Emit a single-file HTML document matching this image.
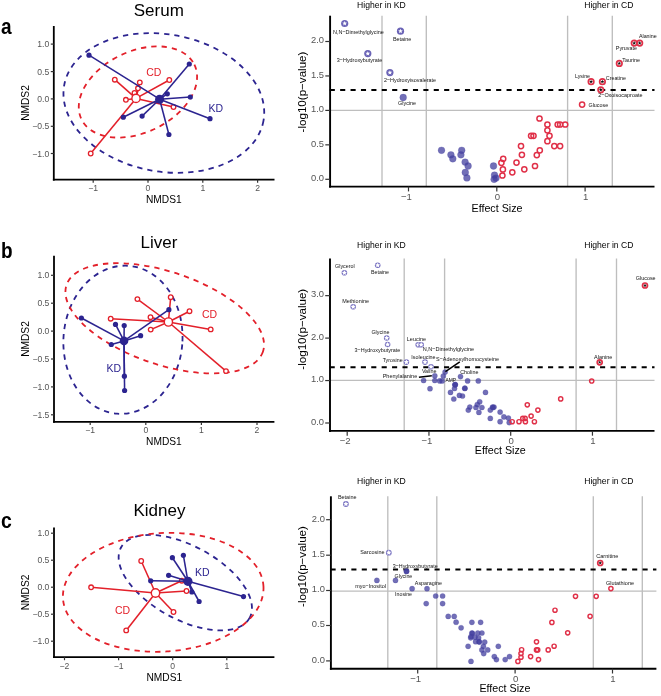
<!DOCTYPE html>
<html><head><meta charset="utf-8"><style>
html,body{margin:0;padding:0;background:#fff;width:661px;height:696px;overflow:hidden}
svg{display:block;font-family:"Liberation Sans", sans-serif;filter:blur(0.3px)}
</style></head><body>
<svg width="661" height="696" viewBox="0 0 661 696">
<rect width="661" height="696" fill="#fff"/>
<ellipse cx="163.84" cy="103" rx="101.21" ry="68.63" transform="rotate(10.02 163.84 103)" fill="none" stroke="#2C2490" stroke-width="1.8" stroke-dasharray="5.3 5.0"/>
<ellipse cx="137.93" cy="91.97" rx="62.72" ry="40.58" transform="rotate(-25.78 137.93 91.97)" fill="none" stroke="#E3202A" stroke-width="1.8" stroke-dasharray="5.3 5.0"/>
<line x1="136" y1="98.4" x2="114.8" y2="79.7" stroke="#E3202A" stroke-width="1.55" stroke-linecap="butt"/>
<line x1="136" y1="98.4" x2="139.8" y2="82.4" stroke="#E3202A" stroke-width="1.55" stroke-linecap="butt"/>
<line x1="136" y1="98.4" x2="138" y2="88.3" stroke="#E3202A" stroke-width="1.55" stroke-linecap="butt"/>
<line x1="136" y1="98.4" x2="134.5" y2="93" stroke="#E3202A" stroke-width="1.55" stroke-linecap="butt"/>
<line x1="136" y1="98.4" x2="125.9" y2="99.8" stroke="#E3202A" stroke-width="1.55" stroke-linecap="butt"/>
<line x1="136" y1="98.4" x2="169.3" y2="80" stroke="#E3202A" stroke-width="1.55" stroke-linecap="butt"/>
<line x1="136" y1="98.4" x2="173.5" y2="107" stroke="#E3202A" stroke-width="1.55" stroke-linecap="butt"/>
<line x1="136" y1="98.4" x2="90.7" y2="153.5" stroke="#E3202A" stroke-width="1.55" stroke-linecap="butt"/>
<circle cx="114.8" cy="79.7" r="2.3" fill="#fff" stroke="#E3202A" stroke-width="1.3"/>
<circle cx="139.8" cy="82.4" r="2.3" fill="#fff" stroke="#E3202A" stroke-width="1.3"/>
<circle cx="138" cy="88.3" r="2.3" fill="#fff" stroke="#E3202A" stroke-width="1.3"/>
<circle cx="134.5" cy="93" r="2.3" fill="#fff" stroke="#E3202A" stroke-width="1.3"/>
<circle cx="125.9" cy="99.8" r="2.3" fill="#fff" stroke="#E3202A" stroke-width="1.3"/>
<circle cx="169.3" cy="80" r="2.3" fill="#fff" stroke="#E3202A" stroke-width="1.3"/>
<circle cx="173.5" cy="107" r="2.3" fill="#fff" stroke="#E3202A" stroke-width="1.3"/>
<circle cx="90.7" cy="153.5" r="2.3" fill="#fff" stroke="#E3202A" stroke-width="1.3"/>
<circle cx="136" cy="98.4" r="4.1" fill="#fff" stroke="#E3202A" stroke-width="1.4"/>
<line x1="159.6" y1="99.2" x2="89" y2="55.2" stroke="#2C2490" stroke-width="1.55" stroke-linecap="butt"/>
<line x1="159.6" y1="99.2" x2="189.3" y2="64" stroke="#2C2490" stroke-width="1.55" stroke-linecap="butt"/>
<line x1="159.6" y1="99.2" x2="167.3" y2="93.8" stroke="#2C2490" stroke-width="1.55" stroke-linecap="butt"/>
<line x1="159.6" y1="99.2" x2="190.3" y2="97" stroke="#2C2490" stroke-width="1.55" stroke-linecap="butt"/>
<line x1="159.6" y1="99.2" x2="210" y2="118.7" stroke="#2C2490" stroke-width="1.55" stroke-linecap="butt"/>
<line x1="159.6" y1="99.2" x2="123.3" y2="117.2" stroke="#2C2490" stroke-width="1.55" stroke-linecap="butt"/>
<line x1="159.6" y1="99.2" x2="142.1" y2="116.1" stroke="#2C2490" stroke-width="1.55" stroke-linecap="butt"/>
<line x1="159.6" y1="99.2" x2="168.9" y2="134.5" stroke="#2C2490" stroke-width="1.55" stroke-linecap="butt"/>
<circle cx="89" cy="55.2" r="2.6" fill="#2C2490" stroke="none" stroke-width="0"/>
<circle cx="189.3" cy="64" r="2.6" fill="#2C2490" stroke="none" stroke-width="0"/>
<circle cx="167.3" cy="93.8" r="2.6" fill="#2C2490" stroke="none" stroke-width="0"/>
<circle cx="190.3" cy="97" r="2.6" fill="#2C2490" stroke="none" stroke-width="0"/>
<circle cx="210" cy="118.7" r="2.6" fill="#2C2490" stroke="none" stroke-width="0"/>
<circle cx="123.3" cy="117.2" r="2.6" fill="#2C2490" stroke="none" stroke-width="0"/>
<circle cx="142.1" cy="116.1" r="2.6" fill="#2C2490" stroke="none" stroke-width="0"/>
<circle cx="168.9" cy="134.5" r="2.6" fill="#2C2490" stroke="none" stroke-width="0"/>
<circle cx="159.6" cy="99.2" r="4.5" fill="#2C2490" stroke="none" stroke-width="0"/>
<line x1="53.8" y1="26" x2="53.8" y2="180.6" stroke="#000" stroke-width="1.8" stroke-linecap="butt"/>
<line x1="52.9" y1="179.7" x2="274.5" y2="179.7" stroke="#000" stroke-width="1.8" stroke-linecap="butt"/>
<line x1="50.8" y1="44.1" x2="53.8" y2="44.1" stroke="#333" stroke-width="1.2" stroke-linecap="butt"/>
<text x="49.2" y="47.2" font-size="8.6" text-anchor="end" fill="#555555" font-weight="normal">1.0</text>
<line x1="50.8" y1="71.6" x2="53.8" y2="71.6" stroke="#333" stroke-width="1.2" stroke-linecap="butt"/>
<text x="49.2" y="74.7" font-size="8.6" text-anchor="end" fill="#555555" font-weight="normal">0.5</text>
<line x1="50.8" y1="98.9" x2="53.8" y2="98.9" stroke="#333" stroke-width="1.2" stroke-linecap="butt"/>
<text x="49.2" y="102" font-size="8.6" text-anchor="end" fill="#555555" font-weight="normal">0.0</text>
<line x1="50.8" y1="126.3" x2="53.8" y2="126.3" stroke="#333" stroke-width="1.2" stroke-linecap="butt"/>
<text x="49.2" y="129.4" font-size="8.6" text-anchor="end" fill="#555555" font-weight="normal">−0.5</text>
<line x1="50.8" y1="153.5" x2="53.8" y2="153.5" stroke="#333" stroke-width="1.2" stroke-linecap="butt"/>
<text x="49.2" y="156.6" font-size="8.6" text-anchor="end" fill="#555555" font-weight="normal">−1.0</text>
<line x1="93.2" y1="179.7" x2="93.2" y2="182.7" stroke="#333" stroke-width="1.2" stroke-linecap="butt"/>
<text x="93.2" y="191" font-size="8.6" text-anchor="middle" fill="#555555" font-weight="normal">−1</text>
<line x1="148" y1="179.7" x2="148" y2="182.7" stroke="#333" stroke-width="1.2" stroke-linecap="butt"/>
<text x="148" y="191" font-size="8.6" text-anchor="middle" fill="#555555" font-weight="normal">0</text>
<line x1="202.8" y1="179.7" x2="202.8" y2="182.7" stroke="#333" stroke-width="1.2" stroke-linecap="butt"/>
<text x="202.8" y="191" font-size="8.6" text-anchor="middle" fill="#555555" font-weight="normal">1</text>
<line x1="257.6" y1="179.7" x2="257.6" y2="182.7" stroke="#333" stroke-width="1.2" stroke-linecap="butt"/>
<text x="257.6" y="191" font-size="8.6" text-anchor="middle" fill="#555555" font-weight="normal">2</text>
<text x="163.8" y="203" font-size="10.2" text-anchor="middle" fill="#000" font-weight="normal">NMDS1</text>
<text x="28.6" y="103" font-size="10.2" text-anchor="middle" fill="#000" font-weight="normal" transform="rotate(-90 28.6 103)">NMDS2</text>
<text x="158.8" y="16.3" font-size="17" text-anchor="middle" fill="#000" font-weight="normal">Serum</text>
<text x="1" y="33.9" font-size="22" text-anchor="start" fill="#000" font-weight="bold" textLength="10.6" lengthAdjust="spacingAndGlyphs">a</text>
<text x="146.2" y="75.8" font-size="10.5" text-anchor="start" fill="#E3202A" font-weight="normal">CD</text>
<text x="208.6" y="112.4" font-size="10.5" text-anchor="start" fill="#2C2490" font-weight="normal">KD</text>
<ellipse cx="122.95" cy="339.74" rx="59.49" ry="74.16" transform="rotate(4.53 122.95 339.74)" fill="none" stroke="#2C2490" stroke-width="1.8" stroke-dasharray="5.3 5.0"/>
<ellipse cx="164.72" cy="318.3" rx="103.71" ry="46.32" transform="rotate(18.77 164.72 318.3)" fill="none" stroke="#E3202A" stroke-width="1.8" stroke-dasharray="5.3 5.0"/>
<line x1="168.4" y1="322" x2="137.4" y2="299.1" stroke="#E3202A" stroke-width="1.55" stroke-linecap="butt"/>
<line x1="168.4" y1="322" x2="170.7" y2="297.2" stroke="#E3202A" stroke-width="1.55" stroke-linecap="butt"/>
<line x1="168.4" y1="322" x2="189.5" y2="311.2" stroke="#E3202A" stroke-width="1.55" stroke-linecap="butt"/>
<line x1="168.4" y1="322" x2="150.5" y2="317.2" stroke="#E3202A" stroke-width="1.55" stroke-linecap="butt"/>
<line x1="168.4" y1="322" x2="150.7" y2="329.6" stroke="#E3202A" stroke-width="1.55" stroke-linecap="butt"/>
<line x1="168.4" y1="322" x2="210.7" y2="329.4" stroke="#E3202A" stroke-width="1.55" stroke-linecap="butt"/>
<line x1="168.4" y1="322" x2="226" y2="371.1" stroke="#E3202A" stroke-width="1.55" stroke-linecap="butt"/>
<line x1="168.4" y1="322" x2="110.7" y2="318.7" stroke="#E3202A" stroke-width="1.55" stroke-linecap="butt"/>
<circle cx="137.4" cy="299.1" r="2.3" fill="#fff" stroke="#E3202A" stroke-width="1.3"/>
<circle cx="170.7" cy="297.2" r="2.3" fill="#fff" stroke="#E3202A" stroke-width="1.3"/>
<circle cx="189.5" cy="311.2" r="2.3" fill="#fff" stroke="#E3202A" stroke-width="1.3"/>
<circle cx="150.5" cy="317.2" r="2.3" fill="#fff" stroke="#E3202A" stroke-width="1.3"/>
<circle cx="150.7" cy="329.6" r="2.3" fill="#fff" stroke="#E3202A" stroke-width="1.3"/>
<circle cx="210.7" cy="329.4" r="2.3" fill="#fff" stroke="#E3202A" stroke-width="1.3"/>
<circle cx="226" cy="371.1" r="2.3" fill="#fff" stroke="#E3202A" stroke-width="1.3"/>
<circle cx="110.7" cy="318.7" r="2.3" fill="#fff" stroke="#E3202A" stroke-width="1.3"/>
<circle cx="168.4" cy="322" r="4.1" fill="#fff" stroke="#E3202A" stroke-width="1.4"/>
<line x1="124" y1="340.9" x2="81.4" y2="318" stroke="#2C2490" stroke-width="1.55" stroke-linecap="butt"/>
<line x1="124" y1="340.9" x2="115.5" y2="324.4" stroke="#2C2490" stroke-width="1.55" stroke-linecap="butt"/>
<line x1="124" y1="340.9" x2="124.2" y2="325.6" stroke="#2C2490" stroke-width="1.55" stroke-linecap="butt"/>
<line x1="124" y1="340.9" x2="140.6" y2="335.7" stroke="#2C2490" stroke-width="1.55" stroke-linecap="butt"/>
<line x1="124" y1="340.9" x2="111.3" y2="344.5" stroke="#2C2490" stroke-width="1.55" stroke-linecap="butt"/>
<line x1="124" y1="340.9" x2="124.4" y2="376.2" stroke="#2C2490" stroke-width="1.55" stroke-linecap="butt"/>
<line x1="124" y1="340.9" x2="124.6" y2="390.5" stroke="#2C2490" stroke-width="1.55" stroke-linecap="butt"/>
<line x1="124" y1="340.9" x2="168.9" y2="309.7" stroke="#2C2490" stroke-width="1.55" stroke-linecap="butt"/>
<circle cx="81.4" cy="318" r="2.6" fill="#2C2490" stroke="none" stroke-width="0"/>
<circle cx="115.5" cy="324.4" r="2.6" fill="#2C2490" stroke="none" stroke-width="0"/>
<circle cx="124.2" cy="325.6" r="2.6" fill="#2C2490" stroke="none" stroke-width="0"/>
<circle cx="140.6" cy="335.7" r="2.6" fill="#2C2490" stroke="none" stroke-width="0"/>
<circle cx="111.3" cy="344.5" r="2.6" fill="#2C2490" stroke="none" stroke-width="0"/>
<circle cx="124.4" cy="376.2" r="2.6" fill="#2C2490" stroke="none" stroke-width="0"/>
<circle cx="124.6" cy="390.5" r="2.6" fill="#2C2490" stroke="none" stroke-width="0"/>
<circle cx="168.9" cy="309.7" r="2.6" fill="#2C2490" stroke="none" stroke-width="0"/>
<circle cx="124" cy="340.9" r="4.3" fill="#2C2490" stroke="none" stroke-width="0"/>
<line x1="54" y1="255.7" x2="54" y2="422.8" stroke="#000" stroke-width="1.8" stroke-linecap="butt"/>
<line x1="53.1" y1="421.9" x2="274.4" y2="421.9" stroke="#000" stroke-width="1.8" stroke-linecap="butt"/>
<line x1="51" y1="275.3" x2="54" y2="275.3" stroke="#333" stroke-width="1.2" stroke-linecap="butt"/>
<text x="49.4" y="278.4" font-size="8.6" text-anchor="end" fill="#555555" font-weight="normal">1.0</text>
<line x1="51" y1="303.2" x2="54" y2="303.2" stroke="#333" stroke-width="1.2" stroke-linecap="butt"/>
<text x="49.4" y="306.3" font-size="8.6" text-anchor="end" fill="#555555" font-weight="normal">0.5</text>
<line x1="51" y1="331.1" x2="54" y2="331.1" stroke="#333" stroke-width="1.2" stroke-linecap="butt"/>
<text x="49.4" y="334.2" font-size="8.6" text-anchor="end" fill="#555555" font-weight="normal">0.0</text>
<line x1="51" y1="359" x2="54" y2="359" stroke="#333" stroke-width="1.2" stroke-linecap="butt"/>
<text x="49.4" y="362.1" font-size="8.6" text-anchor="end" fill="#555555" font-weight="normal">−0.5</text>
<line x1="51" y1="386.9" x2="54" y2="386.9" stroke="#333" stroke-width="1.2" stroke-linecap="butt"/>
<text x="49.4" y="390" font-size="8.6" text-anchor="end" fill="#555555" font-weight="normal">−1.0</text>
<line x1="51" y1="414.8" x2="54" y2="414.8" stroke="#333" stroke-width="1.2" stroke-linecap="butt"/>
<text x="49.4" y="417.9" font-size="8.6" text-anchor="end" fill="#555555" font-weight="normal">−1.5</text>
<line x1="90.2" y1="421.9" x2="90.2" y2="424.9" stroke="#333" stroke-width="1.2" stroke-linecap="butt"/>
<text x="90.2" y="433.2" font-size="8.6" text-anchor="middle" fill="#555555" font-weight="normal">−1</text>
<line x1="145.8" y1="421.9" x2="145.8" y2="424.9" stroke="#333" stroke-width="1.2" stroke-linecap="butt"/>
<text x="145.8" y="433.2" font-size="8.6" text-anchor="middle" fill="#555555" font-weight="normal">0</text>
<line x1="201.4" y1="421.9" x2="201.4" y2="424.9" stroke="#333" stroke-width="1.2" stroke-linecap="butt"/>
<text x="201.4" y="433.2" font-size="8.6" text-anchor="middle" fill="#555555" font-weight="normal">1</text>
<line x1="257" y1="421.9" x2="257" y2="424.9" stroke="#333" stroke-width="1.2" stroke-linecap="butt"/>
<text x="257" y="433.2" font-size="8.6" text-anchor="middle" fill="#555555" font-weight="normal">2</text>
<text x="163.9" y="444.5" font-size="10.2" text-anchor="middle" fill="#000" font-weight="normal">NMDS1</text>
<text x="28.6" y="339" font-size="10.2" text-anchor="middle" fill="#000" font-weight="normal" transform="rotate(-90 28.6 339)">NMDS2</text>
<text x="159" y="248" font-size="17" text-anchor="middle" fill="#000" font-weight="normal">Liver</text>
<text x="1" y="258" font-size="22" text-anchor="start" fill="#000" font-weight="bold" textLength="11.6" lengthAdjust="spacingAndGlyphs">b</text>
<text x="202" y="317.7" font-size="10.5" text-anchor="start" fill="#E3202A" font-weight="normal">CD</text>
<text x="106.6" y="371.5" font-size="10.5" text-anchor="start" fill="#2C2490" font-weight="normal">KD</text>
<ellipse cx="185.31" cy="582.67" rx="73.31" ry="36.74" transform="rotate(28.7 185.31 582.67)" fill="none" stroke="#2C2490" stroke-width="1.8" stroke-dasharray="5.3 5.0"/>
<ellipse cx="163.21" cy="592.33" rx="100.43" ry="59.26" transform="rotate(-3.58 163.21 592.33)" fill="none" stroke="#E3202A" stroke-width="1.8" stroke-dasharray="5.3 5.0"/>
<line x1="155.5" y1="593" x2="141.2" y2="561" stroke="#E3202A" stroke-width="1.55" stroke-linecap="butt"/>
<line x1="155.5" y1="593" x2="91.1" y2="587.3" stroke="#E3202A" stroke-width="1.55" stroke-linecap="butt"/>
<line x1="155.5" y1="593" x2="173.5" y2="612" stroke="#E3202A" stroke-width="1.55" stroke-linecap="butt"/>
<line x1="155.5" y1="593" x2="126.2" y2="630.4" stroke="#E3202A" stroke-width="1.55" stroke-linecap="butt"/>
<line x1="155.5" y1="593" x2="186.5" y2="591" stroke="#E3202A" stroke-width="1.55" stroke-linecap="butt"/>
<line x1="155.5" y1="593" x2="181.8" y2="580.7" stroke="#E3202A" stroke-width="1.55" stroke-linecap="butt"/>
<circle cx="141.2" cy="561" r="2.3" fill="#fff" stroke="#E3202A" stroke-width="1.3"/>
<circle cx="91.1" cy="587.3" r="2.3" fill="#fff" stroke="#E3202A" stroke-width="1.3"/>
<circle cx="173.5" cy="612" r="2.3" fill="#fff" stroke="#E3202A" stroke-width="1.3"/>
<circle cx="126.2" cy="630.4" r="2.3" fill="#fff" stroke="#E3202A" stroke-width="1.3"/>
<circle cx="186.5" cy="591" r="2.3" fill="#fff" stroke="#E3202A" stroke-width="1.3"/>
<circle cx="181.8" cy="580.7" r="2.3" fill="#fff" stroke="#E3202A" stroke-width="1.3"/>
<circle cx="155.5" cy="593" r="4.2" fill="#fff" stroke="#E3202A" stroke-width="1.4"/>
<line x1="187.9" y1="581.3" x2="172.4" y2="557.7" stroke="#2C2490" stroke-width="1.55" stroke-linecap="butt"/>
<line x1="187.9" y1="581.3" x2="183.4" y2="555.3" stroke="#2C2490" stroke-width="1.55" stroke-linecap="butt"/>
<line x1="187.9" y1="581.3" x2="168.6" y2="575.3" stroke="#2C2490" stroke-width="1.55" stroke-linecap="butt"/>
<line x1="187.9" y1="581.3" x2="150.7" y2="580.8" stroke="#2C2490" stroke-width="1.55" stroke-linecap="butt"/>
<line x1="187.9" y1="581.3" x2="191.9" y2="592" stroke="#2C2490" stroke-width="1.55" stroke-linecap="butt"/>
<line x1="187.9" y1="581.3" x2="199.1" y2="601.5" stroke="#2C2490" stroke-width="1.55" stroke-linecap="butt"/>
<line x1="187.9" y1="581.3" x2="243.5" y2="596.6" stroke="#2C2490" stroke-width="1.55" stroke-linecap="butt"/>
<circle cx="172.4" cy="557.7" r="2.6" fill="#2C2490" stroke="none" stroke-width="0"/>
<circle cx="183.4" cy="555.3" r="2.6" fill="#2C2490" stroke="none" stroke-width="0"/>
<circle cx="168.6" cy="575.3" r="2.6" fill="#2C2490" stroke="none" stroke-width="0"/>
<circle cx="150.7" cy="580.8" r="2.6" fill="#2C2490" stroke="none" stroke-width="0"/>
<circle cx="191.9" cy="592" r="2.6" fill="#2C2490" stroke="none" stroke-width="0"/>
<circle cx="199.1" cy="601.5" r="2.6" fill="#2C2490" stroke="none" stroke-width="0"/>
<circle cx="243.5" cy="596.6" r="2.6" fill="#2C2490" stroke="none" stroke-width="0"/>
<circle cx="187.9" cy="581.3" r="4.6" fill="#2C2490" stroke="none" stroke-width="0"/>
<line x1="54" y1="527.6" x2="54" y2="658.1" stroke="#000" stroke-width="1.8" stroke-linecap="butt"/>
<line x1="53.1" y1="657.2" x2="274.4" y2="657.2" stroke="#000" stroke-width="1.8" stroke-linecap="butt"/>
<line x1="51" y1="533.2" x2="54" y2="533.2" stroke="#333" stroke-width="1.2" stroke-linecap="butt"/>
<text x="49.4" y="536.3" font-size="8.6" text-anchor="end" fill="#555555" font-weight="normal">1.0</text>
<line x1="51" y1="560.2" x2="54" y2="560.2" stroke="#333" stroke-width="1.2" stroke-linecap="butt"/>
<text x="49.4" y="563.3" font-size="8.6" text-anchor="end" fill="#555555" font-weight="normal">0.5</text>
<line x1="51" y1="587.2" x2="54" y2="587.2" stroke="#333" stroke-width="1.2" stroke-linecap="butt"/>
<text x="49.4" y="590.3" font-size="8.6" text-anchor="end" fill="#555555" font-weight="normal">0.0</text>
<line x1="51" y1="614.2" x2="54" y2="614.2" stroke="#333" stroke-width="1.2" stroke-linecap="butt"/>
<text x="49.4" y="617.3" font-size="8.6" text-anchor="end" fill="#555555" font-weight="normal">−0.5</text>
<line x1="51" y1="641.2" x2="54" y2="641.2" stroke="#333" stroke-width="1.2" stroke-linecap="butt"/>
<text x="49.4" y="644.3" font-size="8.6" text-anchor="end" fill="#555555" font-weight="normal">−1.0</text>
<line x1="64.5" y1="657.2" x2="64.5" y2="660.2" stroke="#333" stroke-width="1.2" stroke-linecap="butt"/>
<text x="64.5" y="668.5" font-size="8.6" text-anchor="middle" fill="#555555" font-weight="normal">−2</text>
<line x1="118.6" y1="657.2" x2="118.6" y2="660.2" stroke="#333" stroke-width="1.2" stroke-linecap="butt"/>
<text x="118.6" y="668.5" font-size="8.6" text-anchor="middle" fill="#555555" font-weight="normal">−1</text>
<line x1="172.7" y1="657.2" x2="172.7" y2="660.2" stroke="#333" stroke-width="1.2" stroke-linecap="butt"/>
<text x="172.7" y="668.5" font-size="8.6" text-anchor="middle" fill="#555555" font-weight="normal">0</text>
<line x1="226.8" y1="657.2" x2="226.8" y2="660.2" stroke="#333" stroke-width="1.2" stroke-linecap="butt"/>
<text x="226.8" y="668.5" font-size="8.6" text-anchor="middle" fill="#555555" font-weight="normal">1</text>
<text x="164.3" y="680.9" font-size="10.2" text-anchor="middle" fill="#000" font-weight="normal">NMDS1</text>
<text x="28.6" y="592.4" font-size="10.2" text-anchor="middle" fill="#000" font-weight="normal" transform="rotate(-90 28.6 592.4)">NMDS2</text>
<text x="159.4" y="515.5" font-size="17" text-anchor="middle" fill="#000" font-weight="normal">Kidney</text>
<text x="1" y="527.6" font-size="22" text-anchor="start" fill="#000" font-weight="bold" textLength="10.8" lengthAdjust="spacingAndGlyphs">c</text>
<text x="114.9" y="614.4" font-size="10.5" text-anchor="start" fill="#E3202A" font-weight="normal">CD</text>
<text x="195.1" y="575.5" font-size="10.5" text-anchor="start" fill="#2C2490" font-weight="normal">KD</text>
<line x1="382" y1="15.7" x2="382" y2="186.6" stroke="#BEBEBE" stroke-width="1.35" stroke-linecap="butt"/>
<line x1="426.3" y1="15.7" x2="426.3" y2="186.6" stroke="#BEBEBE" stroke-width="1.35" stroke-linecap="butt"/>
<line x1="567.6" y1="15.7" x2="567.6" y2="186.6" stroke="#BEBEBE" stroke-width="1.35" stroke-linecap="butt"/>
<line x1="612.3" y1="15.7" x2="612.3" y2="186.6" stroke="#BEBEBE" stroke-width="1.35" stroke-linecap="butt"/>
<line x1="330.1" y1="110.4" x2="654.5" y2="110.4" stroke="#BEBEBE" stroke-width="1.35" stroke-linecap="butt"/>
<line x1="329.75" y1="90" x2="654.5" y2="90" stroke="#000" stroke-width="2" stroke-linecap="butt" stroke-dasharray="5.1 5.3"/>
<circle cx="441.5" cy="150.3" r="3.4" fill="#433F9F" fill-opacity="0.75" stroke="#433F9F" stroke-opacity="0.4" stroke-width="0.6"/>
<circle cx="450.9" cy="154.8" r="3.4" fill="#433F9F" fill-opacity="0.75" stroke="#433F9F" stroke-opacity="0.4" stroke-width="0.6"/>
<circle cx="452.8" cy="158.8" r="3.4" fill="#433F9F" fill-opacity="0.75" stroke="#433F9F" stroke-opacity="0.4" stroke-width="0.6"/>
<circle cx="461.7" cy="150.3" r="3.4" fill="#433F9F" fill-opacity="0.75" stroke="#433F9F" stroke-opacity="0.4" stroke-width="0.6"/>
<circle cx="460.9" cy="154.8" r="3.4" fill="#433F9F" fill-opacity="0.75" stroke="#433F9F" stroke-opacity="0.4" stroke-width="0.6"/>
<circle cx="465.1" cy="162.1" r="3.4" fill="#433F9F" fill-opacity="0.75" stroke="#433F9F" stroke-opacity="0.4" stroke-width="0.6"/>
<circle cx="468.1" cy="166" r="3.4" fill="#433F9F" fill-opacity="0.75" stroke="#433F9F" stroke-opacity="0.4" stroke-width="0.6"/>
<circle cx="465.3" cy="172.4" r="3.4" fill="#433F9F" fill-opacity="0.75" stroke="#433F9F" stroke-opacity="0.4" stroke-width="0.6"/>
<circle cx="466.9" cy="177.9" r="3.4" fill="#433F9F" fill-opacity="0.75" stroke="#433F9F" stroke-opacity="0.4" stroke-width="0.6"/>
<circle cx="493.5" cy="166" r="3.4" fill="#433F9F" fill-opacity="0.75" stroke="#433F9F" stroke-opacity="0.4" stroke-width="0.6"/>
<circle cx="494.5" cy="175.1" r="3.4" fill="#433F9F" fill-opacity="0.75" stroke="#433F9F" stroke-opacity="0.4" stroke-width="0.6"/>
<circle cx="496" cy="178.1" r="3.4" fill="#433F9F" fill-opacity="0.75" stroke="#433F9F" stroke-opacity="0.4" stroke-width="0.6"/>
<circle cx="494.1" cy="179.3" r="3.4" fill="#433F9F" fill-opacity="0.75" stroke="#433F9F" stroke-opacity="0.4" stroke-width="0.6"/>
<circle cx="403.2" cy="97.5" r="3.4" fill="#433F9F" fill-opacity="0.75" stroke="#433F9F" stroke-opacity="0.4" stroke-width="0.6"/>
<circle cx="503.2" cy="158.8" r="2.6" fill="none" stroke="#E03048" stroke-width="1.5"/>
<circle cx="501.4" cy="162.8" r="2.6" fill="none" stroke="#E03048" stroke-width="1.5"/>
<circle cx="502.9" cy="169.4" r="2.6" fill="none" stroke="#E03048" stroke-width="1.5"/>
<circle cx="502.4" cy="175.5" r="2.6" fill="none" stroke="#E03048" stroke-width="1.5"/>
<circle cx="512.3" cy="172.3" r="2.6" fill="none" stroke="#E03048" stroke-width="1.5"/>
<circle cx="516.5" cy="162.6" r="2.6" fill="none" stroke="#E03048" stroke-width="1.5"/>
<circle cx="521.9" cy="154.8" r="2.6" fill="none" stroke="#E03048" stroke-width="1.5"/>
<circle cx="521" cy="146.1" r="2.6" fill="none" stroke="#E03048" stroke-width="1.5"/>
<circle cx="524.3" cy="169.3" r="2.6" fill="none" stroke="#E03048" stroke-width="1.5"/>
<circle cx="535" cy="166" r="2.6" fill="none" stroke="#E03048" stroke-width="1.5"/>
<circle cx="536.8" cy="155.1" r="2.6" fill="none" stroke="#E03048" stroke-width="1.5"/>
<circle cx="539.8" cy="150.3" r="2.6" fill="none" stroke="#E03048" stroke-width="1.5"/>
<circle cx="531.1" cy="135.8" r="2.6" fill="none" stroke="#E03048" stroke-width="1.5"/>
<circle cx="533.5" cy="135.8" r="2.6" fill="none" stroke="#E03048" stroke-width="1.5"/>
<circle cx="539.5" cy="118.5" r="2.6" fill="none" stroke="#E03048" stroke-width="1.5"/>
<circle cx="547.4" cy="124.5" r="2.6" fill="none" stroke="#E03048" stroke-width="1.5"/>
<circle cx="547.4" cy="130.3" r="2.6" fill="none" stroke="#E03048" stroke-width="1.5"/>
<circle cx="549.5" cy="135.8" r="2.6" fill="none" stroke="#E03048" stroke-width="1.5"/>
<circle cx="547.4" cy="141.2" r="2.6" fill="none" stroke="#E03048" stroke-width="1.5"/>
<circle cx="554.3" cy="146.1" r="2.6" fill="none" stroke="#E03048" stroke-width="1.5"/>
<circle cx="560.1" cy="146.1" r="2.6" fill="none" stroke="#E03048" stroke-width="1.5"/>
<circle cx="557.7" cy="124.5" r="2.6" fill="none" stroke="#E03048" stroke-width="1.5"/>
<circle cx="560.1" cy="124.5" r="2.6" fill="none" stroke="#E03048" stroke-width="1.5"/>
<circle cx="565.2" cy="124.5" r="2.6" fill="none" stroke="#E03048" stroke-width="1.5"/>
<circle cx="582.1" cy="104.6" r="2.6" fill="none" stroke="#E03048" stroke-width="1.5"/>
<circle cx="634.2" cy="43.1" r="2.75" fill="#fff" stroke="#E03048" stroke-width="1.7"/>
<polygon points="634.2,41.12 634.72,42.38 636.08,42.49 635.05,43.38 635.36,44.7 634.2,43.99 633.04,44.7 633.35,43.38 632.32,42.49 633.68,42.38" fill="#111"/>
<circle cx="639.7" cy="43.1" r="2.75" fill="#fff" stroke="#E03048" stroke-width="1.7"/>
<polygon points="639.7,41.12 640.22,42.38 641.58,42.49 640.55,43.38 640.86,44.7 639.7,43.99 638.54,44.7 638.85,43.38 637.82,42.49 639.18,42.38" fill="#111"/>
<circle cx="619.3" cy="63.4" r="2.75" fill="#fff" stroke="#E03048" stroke-width="1.7"/>
<polygon points="619.3,61.42 619.82,62.68 621.18,62.79 620.15,63.68 620.46,65 619.3,64.29 618.14,65 618.45,63.68 617.42,62.79 618.78,62.68" fill="#111"/>
<circle cx="591.1" cy="81.7" r="2.75" fill="#fff" stroke="#E03048" stroke-width="1.7"/>
<polygon points="591.1,79.72 591.62,80.98 592.98,81.09 591.95,81.98 592.26,83.3 591.1,82.59 589.94,83.3 590.25,81.98 589.22,81.09 590.58,80.98" fill="#111"/>
<circle cx="602.4" cy="81.7" r="2.75" fill="#fff" stroke="#E03048" stroke-width="1.7"/>
<polygon points="602.4,79.72 602.92,80.98 604.28,81.09 603.25,81.98 603.56,83.3 602.4,82.59 601.24,83.3 601.55,81.98 600.52,81.09 601.88,80.98" fill="#111"/>
<circle cx="600.8" cy="89.8" r="2.75" fill="#fff" stroke="#E03048" stroke-width="1.7"/>
<polygon points="600.8,87.82 601.32,89.08 602.68,89.19 601.65,90.08 601.96,91.4 600.8,90.69 599.64,91.4 599.95,90.08 598.92,89.19 600.28,89.08" fill="#111"/>
<circle cx="344.7" cy="23.5" r="3.6" fill="#6A63B6" stroke="none" stroke-width="0"/>
<polygon points="344.7,21.05 345.35,22.61 347.03,22.74 345.75,23.84 346.14,25.48 344.7,24.6 343.26,25.48 343.65,23.84 342.37,22.74 344.05,22.61" fill="#fff"/>
<circle cx="400.5" cy="31.2" r="3.6" fill="#6A63B6" stroke="none" stroke-width="0"/>
<polygon points="400.5,28.75 401.15,30.31 402.83,30.44 401.55,31.54 401.94,33.18 400.5,32.3 399.06,33.18 399.45,31.54 398.17,30.44 399.85,30.31" fill="#fff"/>
<circle cx="367.8" cy="53.6" r="3.6" fill="#6A63B6" stroke="none" stroke-width="0"/>
<polygon points="367.8,51.15 368.45,52.71 370.13,52.84 368.85,53.94 369.24,55.58 367.8,54.7 366.36,55.58 366.75,53.94 365.47,52.84 367.15,52.71" fill="#fff"/>
<circle cx="389.9" cy="72.6" r="3.6" fill="#6A63B6" stroke="none" stroke-width="0"/>
<polygon points="389.9,70.15 390.55,71.71 392.23,71.84 390.95,72.94 391.34,74.58 389.9,73.7 388.46,74.58 388.85,72.94 387.57,71.84 389.25,71.71" fill="#fff"/>
<text x="333" y="33.8" font-size="6.1" text-anchor="start" fill="#111111" font-weight="normal" textLength="50.8" lengthAdjust="spacingAndGlyphs">N,N−Dimethylglycine</text>
<text x="392.9" y="40.6" font-size="6.1" text-anchor="start" fill="#111111" font-weight="normal" textLength="18.5" lengthAdjust="spacingAndGlyphs">Betaine</text>
<text x="336.8" y="62.4" font-size="6.1" text-anchor="start" fill="#111111" font-weight="normal" textLength="45.6" lengthAdjust="spacingAndGlyphs">3−Hydroxybutyrate</text>
<text x="383.9" y="82" font-size="6.1" text-anchor="start" fill="#111111" font-weight="normal" textLength="52.2" lengthAdjust="spacingAndGlyphs">2−Hydroxyisovalerate</text>
<text x="398" y="104.8" font-size="6.1" text-anchor="start" fill="#111111" font-weight="normal" textLength="18.1" lengthAdjust="spacingAndGlyphs">Glycine</text>
<text x="638.9" y="38.3" font-size="6.1" text-anchor="start" fill="#111111" font-weight="normal" textLength="17.8" lengthAdjust="spacingAndGlyphs">Alanine</text>
<text x="615.8" y="50" font-size="6.1" text-anchor="start" fill="#111111" font-weight="normal" textLength="21.2" lengthAdjust="spacingAndGlyphs">Pyruvate</text>
<text x="622.3" y="62.2" font-size="6.1" text-anchor="start" fill="#111111" font-weight="normal" textLength="17.7" lengthAdjust="spacingAndGlyphs">Taurine</text>
<text x="575" y="77.6" font-size="6.1" text-anchor="start" fill="#111111" font-weight="normal" textLength="15" lengthAdjust="spacingAndGlyphs">Lysine</text>
<text x="605.8" y="80.4" font-size="6.1" text-anchor="start" fill="#111111" font-weight="normal" textLength="20.2" lengthAdjust="spacingAndGlyphs">Creatine</text>
<text x="598.2" y="97.1" font-size="6.1" text-anchor="start" fill="#111111" font-weight="normal" textLength="44.3" lengthAdjust="spacingAndGlyphs">2−Oxoisocaproate</text>
<text x="588.5" y="106.6" font-size="6.1" text-anchor="start" fill="#111111" font-weight="normal" textLength="19.7" lengthAdjust="spacingAndGlyphs">Glucose</text>
<line x1="330.1" y1="15.7" x2="330.1" y2="187.6" stroke="#000" stroke-width="1.9" stroke-linecap="butt"/>
<line x1="329.1" y1="186.6" x2="654.5" y2="186.6" stroke="#000" stroke-width="1.9" stroke-linecap="butt"/>
<line x1="325.3" y1="179.3" x2="330.1" y2="179.3" stroke="#333" stroke-width="1.2" stroke-linecap="butt"/>
<text x="324.1" y="181.1" font-size="9.4" text-anchor="end" fill="#555555" font-weight="normal">0.0</text>
<line x1="325.3" y1="144.85" x2="330.1" y2="144.85" stroke="#333" stroke-width="1.2" stroke-linecap="butt"/>
<text x="324.1" y="146.65" font-size="9.4" text-anchor="end" fill="#555555" font-weight="normal">0.5</text>
<line x1="325.3" y1="110.4" x2="330.1" y2="110.4" stroke="#333" stroke-width="1.2" stroke-linecap="butt"/>
<text x="324.1" y="112.2" font-size="9.4" text-anchor="end" fill="#555555" font-weight="normal">1.0</text>
<line x1="325.3" y1="75.95" x2="330.1" y2="75.95" stroke="#333" stroke-width="1.2" stroke-linecap="butt"/>
<text x="324.1" y="77.75" font-size="9.4" text-anchor="end" fill="#555555" font-weight="normal">1.5</text>
<line x1="325.3" y1="41.5" x2="330.1" y2="41.5" stroke="#333" stroke-width="1.2" stroke-linecap="butt"/>
<text x="324.1" y="43.3" font-size="9.4" text-anchor="end" fill="#555555" font-weight="normal">2.0</text>
<line x1="408.5" y1="186.6" x2="408.5" y2="191.4" stroke="#333" stroke-width="1.2" stroke-linecap="butt"/>
<text x="406.5" y="199.9" font-size="9.6" text-anchor="middle" fill="#555555" font-weight="normal">−1</text>
<line x1="496.8" y1="186.6" x2="496.8" y2="191.4" stroke="#333" stroke-width="1.2" stroke-linecap="butt"/>
<text x="497.3" y="199.9" font-size="9.6" text-anchor="middle" fill="#555555" font-weight="normal">0</text>
<line x1="585.1" y1="186.6" x2="585.1" y2="191.4" stroke="#333" stroke-width="1.2" stroke-linecap="butt"/>
<text x="585.6" y="199.9" font-size="9.6" text-anchor="middle" fill="#555555" font-weight="normal">1</text>
<text x="497" y="212" font-size="10.7" text-anchor="middle" fill="#000" font-weight="normal">Effect Size</text>
<text x="306.3" y="92" font-size="11.6" text-anchor="middle" fill="#000" font-weight="normal" transform="rotate(-90 306.3 92)">-log10(p−value)</text>
<text x="381.4" y="8.3" font-size="8.6" text-anchor="middle" fill="#000" font-weight="normal">Higher in KD</text>
<text x="608.8" y="8.3" font-size="8.6" text-anchor="middle" fill="#000" font-weight="normal">Higher in CD</text>
<line x1="404.2" y1="258.5" x2="404.2" y2="430.9" stroke="#BEBEBE" stroke-width="1.35" stroke-linecap="butt"/>
<line x1="444.6" y1="258.5" x2="444.6" y2="430.9" stroke="#BEBEBE" stroke-width="1.35" stroke-linecap="butt"/>
<line x1="576.1" y1="258.5" x2="576.1" y2="430.9" stroke="#BEBEBE" stroke-width="1.35" stroke-linecap="butt"/>
<line x1="616.5" y1="258.5" x2="616.5" y2="430.9" stroke="#BEBEBE" stroke-width="1.35" stroke-linecap="butt"/>
<line x1="330" y1="380.4" x2="654.5" y2="380.4" stroke="#BEBEBE" stroke-width="1.35" stroke-linecap="butt"/>
<line x1="329.65" y1="367.2" x2="654.5" y2="367.2" stroke="#000" stroke-width="2" stroke-linecap="butt" stroke-dasharray="5.1 5.3"/>
<circle cx="423.6" cy="380.5" r="2.6" fill="#433F9F" fill-opacity="0.75" stroke="#433F9F" stroke-opacity="0.4" stroke-width="0.6"/>
<circle cx="434.8" cy="375.8" r="2.6" fill="#433F9F" fill-opacity="0.75" stroke="#433F9F" stroke-opacity="0.4" stroke-width="0.6"/>
<circle cx="434.8" cy="380.5" r="2.6" fill="#433F9F" fill-opacity="0.75" stroke="#433F9F" stroke-opacity="0.4" stroke-width="0.6"/>
<circle cx="439.7" cy="380.9" r="2.6" fill="#433F9F" fill-opacity="0.75" stroke="#433F9F" stroke-opacity="0.4" stroke-width="0.6"/>
<circle cx="442.1" cy="380.9" r="2.6" fill="#433F9F" fill-opacity="0.75" stroke="#433F9F" stroke-opacity="0.4" stroke-width="0.6"/>
<circle cx="443.3" cy="376" r="2.6" fill="#433F9F" fill-opacity="0.75" stroke="#433F9F" stroke-opacity="0.4" stroke-width="0.6"/>
<circle cx="445.1" cy="372.1" r="2.6" fill="#433F9F" fill-opacity="0.75" stroke="#433F9F" stroke-opacity="0.4" stroke-width="0.6"/>
<circle cx="430" cy="388.7" r="2.6" fill="#433F9F" fill-opacity="0.75" stroke="#433F9F" stroke-opacity="0.4" stroke-width="0.6"/>
<circle cx="460.5" cy="376.6" r="2.6" fill="#433F9F" fill-opacity="0.75" stroke="#433F9F" stroke-opacity="0.4" stroke-width="0.6"/>
<circle cx="467.6" cy="380.9" r="2.6" fill="#433F9F" fill-opacity="0.75" stroke="#433F9F" stroke-opacity="0.4" stroke-width="0.6"/>
<circle cx="478.3" cy="380.9" r="2.6" fill="#433F9F" fill-opacity="0.75" stroke="#433F9F" stroke-opacity="0.4" stroke-width="0.6"/>
<circle cx="455" cy="384.5" r="2.6" fill="#433F9F" fill-opacity="0.75" stroke="#433F9F" stroke-opacity="0.4" stroke-width="0.6"/>
<circle cx="454.5" cy="388.5" r="2.6" fill="#433F9F" fill-opacity="0.75" stroke="#433F9F" stroke-opacity="0.4" stroke-width="0.6"/>
<circle cx="450.5" cy="392.4" r="2.6" fill="#433F9F" fill-opacity="0.75" stroke="#433F9F" stroke-opacity="0.4" stroke-width="0.6"/>
<circle cx="464.8" cy="388.5" r="2.6" fill="#433F9F" fill-opacity="0.75" stroke="#433F9F" stroke-opacity="0.4" stroke-width="0.6"/>
<circle cx="453.8" cy="399" r="2.6" fill="#433F9F" fill-opacity="0.75" stroke="#433F9F" stroke-opacity="0.4" stroke-width="0.6"/>
<circle cx="459.4" cy="395.4" r="2.6" fill="#433F9F" fill-opacity="0.75" stroke="#433F9F" stroke-opacity="0.4" stroke-width="0.6"/>
<circle cx="462.5" cy="396" r="2.6" fill="#433F9F" fill-opacity="0.75" stroke="#433F9F" stroke-opacity="0.4" stroke-width="0.6"/>
<circle cx="485.5" cy="392.4" r="2.6" fill="#433F9F" fill-opacity="0.75" stroke="#433F9F" stroke-opacity="0.4" stroke-width="0.6"/>
<circle cx="479.7" cy="401.8" r="2.6" fill="#433F9F" fill-opacity="0.75" stroke="#433F9F" stroke-opacity="0.4" stroke-width="0.6"/>
<circle cx="477.3" cy="404.5" r="2.6" fill="#433F9F" fill-opacity="0.75" stroke="#433F9F" stroke-opacity="0.4" stroke-width="0.6"/>
<circle cx="469.8" cy="407.1" r="2.6" fill="#433F9F" fill-opacity="0.75" stroke="#433F9F" stroke-opacity="0.4" stroke-width="0.6"/>
<circle cx="468.3" cy="410.1" r="2.6" fill="#433F9F" fill-opacity="0.75" stroke="#433F9F" stroke-opacity="0.4" stroke-width="0.6"/>
<circle cx="475.9" cy="407.5" r="2.6" fill="#433F9F" fill-opacity="0.75" stroke="#433F9F" stroke-opacity="0.4" stroke-width="0.6"/>
<circle cx="481.9" cy="407.5" r="2.6" fill="#433F9F" fill-opacity="0.75" stroke="#433F9F" stroke-opacity="0.4" stroke-width="0.6"/>
<circle cx="478.9" cy="412.4" r="2.6" fill="#433F9F" fill-opacity="0.75" stroke="#433F9F" stroke-opacity="0.4" stroke-width="0.6"/>
<circle cx="492.5" cy="407.1" r="2.6" fill="#433F9F" fill-opacity="0.75" stroke="#433F9F" stroke-opacity="0.4" stroke-width="0.6"/>
<circle cx="490.3" cy="410.1" r="2.6" fill="#433F9F" fill-opacity="0.75" stroke="#433F9F" stroke-opacity="0.4" stroke-width="0.6"/>
<circle cx="494" cy="407.1" r="2.6" fill="#433F9F" fill-opacity="0.75" stroke="#433F9F" stroke-opacity="0.4" stroke-width="0.6"/>
<circle cx="490.3" cy="418.4" r="2.6" fill="#433F9F" fill-opacity="0.75" stroke="#433F9F" stroke-opacity="0.4" stroke-width="0.6"/>
<circle cx="500.1" cy="412.1" r="2.6" fill="#433F9F" fill-opacity="0.75" stroke="#433F9F" stroke-opacity="0.4" stroke-width="0.6"/>
<circle cx="503.9" cy="416.9" r="2.6" fill="#433F9F" fill-opacity="0.75" stroke="#433F9F" stroke-opacity="0.4" stroke-width="0.6"/>
<circle cx="508.4" cy="418.1" r="2.6" fill="#433F9F" fill-opacity="0.75" stroke="#433F9F" stroke-opacity="0.4" stroke-width="0.6"/>
<circle cx="500.1" cy="421.7" r="2.6" fill="#433F9F" fill-opacity="0.75" stroke="#433F9F" stroke-opacity="0.4" stroke-width="0.6"/>
<circle cx="509.2" cy="422.6" r="2.6" fill="#433F9F" fill-opacity="0.75" stroke="#433F9F" stroke-opacity="0.4" stroke-width="0.6"/>
<circle cx="455.1" cy="385" r="2.6" fill="#433F9F" fill-opacity="0.75" stroke="#433F9F" stroke-opacity="0.4" stroke-width="0.6"/>
<circle cx="455.3" cy="384.6" r="2.6" fill="#433F9F" fill-opacity="0.75" stroke="#433F9F" stroke-opacity="0.4" stroke-width="0.6"/>
<circle cx="464.9" cy="388.2" r="2.6" fill="#433F9F" fill-opacity="0.75" stroke="#433F9F" stroke-opacity="0.4" stroke-width="0.6"/>
<circle cx="493" cy="407.6" r="2.6" fill="#433F9F" fill-opacity="0.75" stroke="#433F9F" stroke-opacity="0.4" stroke-width="0.6"/>
<circle cx="591.7" cy="381" r="2.1" fill="none" stroke="#E03048" stroke-width="1.45"/>
<circle cx="560.7" cy="398.9" r="2.1" fill="none" stroke="#E03048" stroke-width="1.45"/>
<circle cx="537.9" cy="410.1" r="2.1" fill="none" stroke="#E03048" stroke-width="1.45"/>
<circle cx="527.3" cy="404.8" r="2.1" fill="none" stroke="#E03048" stroke-width="1.45"/>
<circle cx="531.1" cy="416.1" r="2.1" fill="none" stroke="#E03048" stroke-width="1.45"/>
<circle cx="522.8" cy="418.4" r="2.1" fill="none" stroke="#E03048" stroke-width="1.45"/>
<circle cx="525.1" cy="418.4" r="2.1" fill="none" stroke="#E03048" stroke-width="1.45"/>
<circle cx="512.2" cy="421.7" r="2.1" fill="none" stroke="#E03048" stroke-width="1.45"/>
<circle cx="519" cy="421.7" r="2.1" fill="none" stroke="#E03048" stroke-width="1.45"/>
<circle cx="525.4" cy="421.7" r="2.1" fill="none" stroke="#E03048" stroke-width="1.45"/>
<circle cx="534.4" cy="421.7" r="2.1" fill="none" stroke="#E03048" stroke-width="1.45"/>
<circle cx="645" cy="285.5" r="2.5" fill="#fff" stroke="#E03048" stroke-width="1.7"/>
<polygon points="645,283.7 645.48,284.84 646.71,284.94 645.77,285.75 646.06,286.96 645,286.31 643.94,286.96 644.23,285.75 643.29,284.94 644.52,284.84" fill="#111"/>
<circle cx="599.7" cy="362.3" r="2.5" fill="#fff" stroke="#E03048" stroke-width="1.7"/>
<polygon points="599.7,360.5 600.18,361.64 601.41,361.74 600.47,362.55 600.76,363.76 599.7,363.11 598.64,363.76 598.93,362.55 597.99,361.74 599.22,361.64" fill="#111"/>
<circle cx="344.4" cy="272.8" r="2.8" fill="#7A74C2" stroke="none" stroke-width="0"/>
<polygon points="344.4,270.22 345.16,271.76 346.85,272 345.62,273.2 345.91,274.88 344.4,274.09 342.89,274.88 343.18,273.2 341.95,272 343.64,271.76" fill="#fff"/>
<circle cx="377.7" cy="265.3" r="2.8" fill="#7A74C2" stroke="none" stroke-width="0"/>
<polygon points="377.7,262.72 378.46,264.26 380.15,264.5 378.92,265.7 379.21,267.38 377.7,266.59 376.19,267.38 376.48,265.7 375.25,264.5 376.94,264.26" fill="#fff"/>
<circle cx="353.2" cy="306.8" r="2.8" fill="#7A74C2" stroke="none" stroke-width="0"/>
<polygon points="353.2,304.22 353.96,305.76 355.65,306 354.42,307.2 354.71,308.88 353.2,308.09 351.69,308.88 351.98,307.2 350.75,306 352.44,305.76" fill="#fff"/>
<circle cx="386.7" cy="338" r="2.8" fill="#7A74C2" stroke="none" stroke-width="0"/>
<polygon points="386.7,335.42 387.46,336.96 389.15,337.2 387.92,338.4 388.21,340.08 386.7,339.29 385.19,340.08 385.48,338.4 384.25,337.2 385.94,336.96" fill="#fff"/>
<circle cx="387.6" cy="344.5" r="2.8" fill="#7A74C2" stroke="none" stroke-width="0"/>
<polygon points="387.6,341.92 388.36,343.46 390.05,343.7 388.82,344.9 389.11,346.58 387.6,345.79 386.09,346.58 386.38,344.9 385.15,343.7 386.84,343.46" fill="#fff"/>
<circle cx="418.2" cy="344.7" r="2.8" fill="#7A74C2" stroke="none" stroke-width="0"/>
<polygon points="418.2,342.12 418.96,343.66 420.65,343.9 419.42,345.1 419.71,346.78 418.2,345.99 416.69,346.78 416.98,345.1 415.75,343.9 417.44,343.66" fill="#fff"/>
<circle cx="421.2" cy="344.7" r="2.8" fill="#7A74C2" stroke="none" stroke-width="0"/>
<polygon points="421.2,342.12 421.96,343.66 423.65,343.9 422.42,345.1 422.71,346.78 421.2,345.99 419.69,346.78 419.98,345.1 418.75,343.9 420.44,343.66" fill="#fff"/>
<circle cx="406.4" cy="362.1" r="2.8" fill="#7A74C2" stroke="none" stroke-width="0"/>
<polygon points="406.4,359.52 407.16,361.06 408.85,361.3 407.62,362.5 407.91,364.18 406.4,363.39 404.89,364.18 405.18,362.5 403.95,361.3 405.64,361.06" fill="#fff"/>
<circle cx="425" cy="362.1" r="2.8" fill="#7A74C2" stroke="none" stroke-width="0"/>
<polygon points="425,359.52 425.76,361.06 427.45,361.3 426.22,362.5 426.51,364.18 425,363.39 423.49,364.18 423.78,362.5 422.55,361.3 424.24,361.06" fill="#fff"/>
<circle cx="431" cy="366.8" r="2.8" fill="#7A74C2" stroke="none" stroke-width="0"/>
<polygon points="431,364.22 431.76,365.76 433.45,366 432.22,367.2 432.51,368.88 431,368.09 429.49,368.88 429.78,367.2 428.55,366 430.24,365.76" fill="#fff"/>
<line x1="418.9" y1="377.2" x2="431.8" y2="375.8" stroke="#000" stroke-width="1.5" stroke-linecap="butt"/>
<line x1="445.4" y1="371.6" x2="459.8" y2="361.8" stroke="#000" stroke-width="1.5" stroke-linecap="butt"/>
<text x="335.1" y="268.1" font-size="6.1" text-anchor="start" fill="#111111" font-weight="normal" textLength="19.5" lengthAdjust="spacingAndGlyphs">Glycerol</text>
<text x="371.1" y="273.8" font-size="6.1" text-anchor="start" fill="#111111" font-weight="normal" textLength="17.9" lengthAdjust="spacingAndGlyphs">Betaine</text>
<text x="342.2" y="302.7" font-size="6.1" text-anchor="start" fill="#111111" font-weight="normal" textLength="26.8" lengthAdjust="spacingAndGlyphs">Methionine</text>
<text x="371.4" y="333.7" font-size="6.1" text-anchor="start" fill="#111111" font-weight="normal" textLength="18" lengthAdjust="spacingAndGlyphs">Glycine</text>
<text x="354.5" y="351.6" font-size="6.1" text-anchor="start" fill="#111111" font-weight="normal" textLength="45.8" lengthAdjust="spacingAndGlyphs">3−Hydroxybutyrate</text>
<text x="406.8" y="340.7" font-size="6.1" text-anchor="start" fill="#111111" font-weight="normal" textLength="19.2" lengthAdjust="spacingAndGlyphs">Leucine</text>
<text x="422.7" y="351" font-size="6.1" text-anchor="start" fill="#111111" font-weight="normal" textLength="51.4" lengthAdjust="spacingAndGlyphs">N,N−Dimethylglycine</text>
<text x="382.7" y="362" font-size="6.1" text-anchor="start" fill="#111111" font-weight="normal" textLength="19.9" lengthAdjust="spacingAndGlyphs">Tyrosine</text>
<text x="411.3" y="358.8" font-size="6.1" text-anchor="start" fill="#111111" font-weight="normal" textLength="24.3" lengthAdjust="spacingAndGlyphs">Isoleucine</text>
<text x="436" y="360.7" font-size="6.1" text-anchor="start" fill="#111111" font-weight="normal" textLength="63.1" lengthAdjust="spacingAndGlyphs">S−Adenosylhomocysteine</text>
<text x="421.9" y="372.6" font-size="6.1" text-anchor="start" fill="#111111" font-weight="normal" textLength="14.7" lengthAdjust="spacingAndGlyphs">Valine</text>
<text x="382.7" y="377.8" font-size="6.1" text-anchor="start" fill="#111111" font-weight="normal" textLength="34.5" lengthAdjust="spacingAndGlyphs">Phenylalanine</text>
<text x="445.4" y="381.7" font-size="6.1" text-anchor="start" fill="#111111" font-weight="normal" textLength="10.6" lengthAdjust="spacingAndGlyphs">AMP</text>
<text x="460.2" y="373.7" font-size="6.1" text-anchor="start" fill="#111111" font-weight="normal" textLength="18.2" lengthAdjust="spacingAndGlyphs">Choline</text>
<text x="594" y="358.5" font-size="6.1" text-anchor="start" fill="#111111" font-weight="normal" textLength="18.4" lengthAdjust="spacingAndGlyphs">Alanine</text>
<text x="635.8" y="280.4" font-size="6.1" text-anchor="start" fill="#111111" font-weight="normal" textLength="19.8" lengthAdjust="spacingAndGlyphs">Glucose</text>
<line x1="330" y1="258.5" x2="330" y2="431.9" stroke="#000" stroke-width="1.9" stroke-linecap="butt"/>
<line x1="329" y1="430.9" x2="654.5" y2="430.9" stroke="#000" stroke-width="1.9" stroke-linecap="butt"/>
<line x1="325.2" y1="423" x2="330" y2="423" stroke="#333" stroke-width="1.2" stroke-linecap="butt"/>
<text x="324" y="424.8" font-size="9.4" text-anchor="end" fill="#555555" font-weight="normal">0.0</text>
<line x1="325.2" y1="380.55" x2="330" y2="380.55" stroke="#333" stroke-width="1.2" stroke-linecap="butt"/>
<text x="324" y="382.35" font-size="9.4" text-anchor="end" fill="#555555" font-weight="normal">1.0</text>
<line x1="325.2" y1="338.1" x2="330" y2="338.1" stroke="#333" stroke-width="1.2" stroke-linecap="butt"/>
<text x="324" y="339.9" font-size="9.4" text-anchor="end" fill="#555555" font-weight="normal">2.0</text>
<line x1="325.2" y1="295.65" x2="330" y2="295.65" stroke="#333" stroke-width="1.2" stroke-linecap="butt"/>
<text x="324" y="297.45" font-size="9.4" text-anchor="end" fill="#555555" font-weight="normal">3.0</text>
<line x1="347.2" y1="430.9" x2="347.2" y2="435.7" stroke="#333" stroke-width="1.2" stroke-linecap="butt"/>
<text x="345.2" y="444.2" font-size="9.6" text-anchor="middle" fill="#555555" font-weight="normal">−2</text>
<line x1="428.95" y1="430.9" x2="428.95" y2="435.7" stroke="#333" stroke-width="1.2" stroke-linecap="butt"/>
<text x="426.95" y="444.2" font-size="9.6" text-anchor="middle" fill="#555555" font-weight="normal">−1</text>
<line x1="510.7" y1="430.9" x2="510.7" y2="435.7" stroke="#333" stroke-width="1.2" stroke-linecap="butt"/>
<text x="511.2" y="444.2" font-size="9.6" text-anchor="middle" fill="#555555" font-weight="normal">0</text>
<line x1="592.45" y1="430.9" x2="592.45" y2="435.7" stroke="#333" stroke-width="1.2" stroke-linecap="butt"/>
<text x="592.95" y="444.2" font-size="9.6" text-anchor="middle" fill="#555555" font-weight="normal">1</text>
<text x="500.3" y="454.4" font-size="10.7" text-anchor="middle" fill="#000" font-weight="normal">Effect Size</text>
<text x="306.3" y="329.2" font-size="11.6" text-anchor="middle" fill="#000" font-weight="normal" transform="rotate(-90 306.3 329.2)">-log10(p−value)</text>
<text x="381.4" y="247.8" font-size="8.6" text-anchor="middle" fill="#000" font-weight="normal">Higher in KD</text>
<text x="608.8" y="247.8" font-size="8.6" text-anchor="middle" fill="#000" font-weight="normal">Higher in CD</text>
<line x1="387.8" y1="496.3" x2="387.8" y2="668.7" stroke="#BEBEBE" stroke-width="1.35" stroke-linecap="butt"/>
<line x1="436.8" y1="496.3" x2="436.8" y2="668.7" stroke="#BEBEBE" stroke-width="1.35" stroke-linecap="butt"/>
<line x1="593.3" y1="496.3" x2="593.3" y2="668.7" stroke="#BEBEBE" stroke-width="1.35" stroke-linecap="butt"/>
<line x1="642.3" y1="496.3" x2="642.3" y2="668.7" stroke="#BEBEBE" stroke-width="1.35" stroke-linecap="butt"/>
<line x1="330.9" y1="591.1" x2="656.4" y2="591.1" stroke="#BEBEBE" stroke-width="1.35" stroke-linecap="butt"/>
<line x1="330.55" y1="569.5" x2="656.4" y2="569.5" stroke="#000" stroke-width="2" stroke-linecap="butt" stroke-dasharray="5.1 5.3"/>
<circle cx="406.4" cy="571.4" r="2.6" fill="#433F9F" fill-opacity="0.75" stroke="#433F9F" stroke-opacity="0.4" stroke-width="0.6"/>
<circle cx="406.6" cy="571.2" r="2.6" fill="#433F9F" fill-opacity="0.75" stroke="#433F9F" stroke-opacity="0.4" stroke-width="0.6"/>
<circle cx="376.9" cy="580.4" r="2.6" fill="#433F9F" fill-opacity="0.75" stroke="#433F9F" stroke-opacity="0.4" stroke-width="0.6"/>
<circle cx="395.5" cy="580.4" r="2.6" fill="#433F9F" fill-opacity="0.75" stroke="#433F9F" stroke-opacity="0.4" stroke-width="0.6"/>
<circle cx="412.1" cy="588.7" r="2.6" fill="#433F9F" fill-opacity="0.75" stroke="#433F9F" stroke-opacity="0.4" stroke-width="0.6"/>
<circle cx="427" cy="588.7" r="2.6" fill="#433F9F" fill-opacity="0.75" stroke="#433F9F" stroke-opacity="0.4" stroke-width="0.6"/>
<circle cx="435.7" cy="596" r="2.6" fill="#433F9F" fill-opacity="0.75" stroke="#433F9F" stroke-opacity="0.4" stroke-width="0.6"/>
<circle cx="442.6" cy="596" r="2.6" fill="#433F9F" fill-opacity="0.75" stroke="#433F9F" stroke-opacity="0.4" stroke-width="0.6"/>
<circle cx="426.2" cy="603.6" r="2.6" fill="#433F9F" fill-opacity="0.75" stroke="#433F9F" stroke-opacity="0.4" stroke-width="0.6"/>
<circle cx="442.6" cy="603.6" r="2.6" fill="#433F9F" fill-opacity="0.75" stroke="#433F9F" stroke-opacity="0.4" stroke-width="0.6"/>
<circle cx="448.2" cy="616.4" r="2.6" fill="#433F9F" fill-opacity="0.75" stroke="#433F9F" stroke-opacity="0.4" stroke-width="0.6"/>
<circle cx="454.2" cy="616.4" r="2.6" fill="#433F9F" fill-opacity="0.75" stroke="#433F9F" stroke-opacity="0.4" stroke-width="0.6"/>
<circle cx="456.1" cy="622.2" r="2.6" fill="#433F9F" fill-opacity="0.75" stroke="#433F9F" stroke-opacity="0.4" stroke-width="0.6"/>
<circle cx="461.1" cy="627.8" r="2.6" fill="#433F9F" fill-opacity="0.75" stroke="#433F9F" stroke-opacity="0.4" stroke-width="0.6"/>
<circle cx="471.9" cy="622.3" r="2.6" fill="#433F9F" fill-opacity="0.75" stroke="#433F9F" stroke-opacity="0.4" stroke-width="0.6"/>
<circle cx="480.6" cy="622.3" r="2.6" fill="#433F9F" fill-opacity="0.75" stroke="#433F9F" stroke-opacity="0.4" stroke-width="0.6"/>
<circle cx="471.9" cy="633" r="2.6" fill="#433F9F" fill-opacity="0.75" stroke="#433F9F" stroke-opacity="0.4" stroke-width="0.6"/>
<circle cx="477.8" cy="633" r="2.6" fill="#433F9F" fill-opacity="0.75" stroke="#433F9F" stroke-opacity="0.4" stroke-width="0.6"/>
<circle cx="481.9" cy="633" r="2.6" fill="#433F9F" fill-opacity="0.75" stroke="#433F9F" stroke-opacity="0.4" stroke-width="0.6"/>
<circle cx="470.7" cy="637.8" r="2.6" fill="#433F9F" fill-opacity="0.75" stroke="#433F9F" stroke-opacity="0.4" stroke-width="0.6"/>
<circle cx="475" cy="637.2" r="2.6" fill="#433F9F" fill-opacity="0.75" stroke="#433F9F" stroke-opacity="0.4" stroke-width="0.6"/>
<circle cx="478.6" cy="637.8" r="2.6" fill="#433F9F" fill-opacity="0.75" stroke="#433F9F" stroke-opacity="0.4" stroke-width="0.6"/>
<circle cx="475.6" cy="641.7" r="2.6" fill="#433F9F" fill-opacity="0.75" stroke="#433F9F" stroke-opacity="0.4" stroke-width="0.6"/>
<circle cx="479.2" cy="642.1" r="2.6" fill="#433F9F" fill-opacity="0.75" stroke="#433F9F" stroke-opacity="0.4" stroke-width="0.6"/>
<circle cx="484.7" cy="642.1" r="2.6" fill="#433F9F" fill-opacity="0.75" stroke="#433F9F" stroke-opacity="0.4" stroke-width="0.6"/>
<circle cx="483.4" cy="646.3" r="2.6" fill="#433F9F" fill-opacity="0.75" stroke="#433F9F" stroke-opacity="0.4" stroke-width="0.6"/>
<circle cx="468.1" cy="646.3" r="2.6" fill="#433F9F" fill-opacity="0.75" stroke="#433F9F" stroke-opacity="0.4" stroke-width="0.6"/>
<circle cx="498.3" cy="646.3" r="2.6" fill="#433F9F" fill-opacity="0.75" stroke="#433F9F" stroke-opacity="0.4" stroke-width="0.6"/>
<circle cx="481.9" cy="649.9" r="2.6" fill="#433F9F" fill-opacity="0.75" stroke="#433F9F" stroke-opacity="0.4" stroke-width="0.6"/>
<circle cx="487.7" cy="649.9" r="2.6" fill="#433F9F" fill-opacity="0.75" stroke="#433F9F" stroke-opacity="0.4" stroke-width="0.6"/>
<circle cx="483.7" cy="653.6" r="2.6" fill="#433F9F" fill-opacity="0.75" stroke="#433F9F" stroke-opacity="0.4" stroke-width="0.6"/>
<circle cx="494.3" cy="656.6" r="2.6" fill="#433F9F" fill-opacity="0.75" stroke="#433F9F" stroke-opacity="0.4" stroke-width="0.6"/>
<circle cx="496.4" cy="659.6" r="2.6" fill="#433F9F" fill-opacity="0.75" stroke="#433F9F" stroke-opacity="0.4" stroke-width="0.6"/>
<circle cx="505.2" cy="659.6" r="2.6" fill="#433F9F" fill-opacity="0.75" stroke="#433F9F" stroke-opacity="0.4" stroke-width="0.6"/>
<circle cx="509.5" cy="656.6" r="2.6" fill="#433F9F" fill-opacity="0.75" stroke="#433F9F" stroke-opacity="0.4" stroke-width="0.6"/>
<circle cx="471" cy="661.4" r="2.6" fill="#433F9F" fill-opacity="0.75" stroke="#433F9F" stroke-opacity="0.4" stroke-width="0.6"/>
<circle cx="472.4" cy="633.3" r="2.6" fill="#433F9F" fill-opacity="0.75" stroke="#433F9F" stroke-opacity="0.4" stroke-width="0.6"/>
<circle cx="479.2" cy="641.6" r="2.6" fill="#433F9F" fill-opacity="0.75" stroke="#433F9F" stroke-opacity="0.4" stroke-width="0.6"/>
<circle cx="471" cy="636.5" r="2.6" fill="#433F9F" fill-opacity="0.75" stroke="#433F9F" stroke-opacity="0.4" stroke-width="0.6"/>
<circle cx="521.6" cy="649.7" r="2.1" fill="none" stroke="#E03048" stroke-width="1.45"/>
<circle cx="521" cy="653.6" r="2.1" fill="none" stroke="#E03048" stroke-width="1.45"/>
<circle cx="521" cy="657.2" r="2.1" fill="none" stroke="#E03048" stroke-width="1.45"/>
<circle cx="517.9" cy="661.4" r="2.1" fill="none" stroke="#E03048" stroke-width="1.45"/>
<circle cx="530.6" cy="656.6" r="2.1" fill="none" stroke="#E03048" stroke-width="1.45"/>
<circle cx="575.5" cy="596.3" r="2.1" fill="none" stroke="#E03048" stroke-width="1.45"/>
<circle cx="596.2" cy="596.3" r="2.1" fill="none" stroke="#E03048" stroke-width="1.45"/>
<circle cx="555" cy="610.2" r="2.1" fill="none" stroke="#E03048" stroke-width="1.45"/>
<circle cx="590.1" cy="616.3" r="2.1" fill="none" stroke="#E03048" stroke-width="1.45"/>
<circle cx="551.9" cy="622.4" r="2.1" fill="none" stroke="#E03048" stroke-width="1.45"/>
<circle cx="567.7" cy="632.8" r="2.1" fill="none" stroke="#E03048" stroke-width="1.45"/>
<circle cx="536.5" cy="641.8" r="2.1" fill="none" stroke="#E03048" stroke-width="1.45"/>
<circle cx="536.5" cy="649.9" r="2.1" fill="none" stroke="#E03048" stroke-width="1.45"/>
<circle cx="537.7" cy="649.9" r="2.1" fill="none" stroke="#E03048" stroke-width="1.45"/>
<circle cx="554.1" cy="646.2" r="2.1" fill="none" stroke="#E03048" stroke-width="1.45"/>
<circle cx="548.2" cy="649.9" r="2.1" fill="none" stroke="#E03048" stroke-width="1.45"/>
<circle cx="538.5" cy="659.6" r="2.1" fill="none" stroke="#E03048" stroke-width="1.45"/>
<circle cx="610.9" cy="588.6" r="2.1" fill="none" stroke="#E03048" stroke-width="1.45"/>
<circle cx="600.2" cy="563" r="2.5" fill="#fff" stroke="#E03048" stroke-width="1.7"/>
<polygon points="600.2,561.2 600.68,562.34 601.91,562.44 600.97,563.25 601.26,564.46 600.2,563.81 599.14,564.46 599.43,563.25 598.49,562.44 599.72,562.34" fill="#111"/>
<circle cx="345.9" cy="504" r="2.9" fill="#7A74C2" stroke="none" stroke-width="0"/>
<polygon points="345.9,501.33 346.68,502.92 348.44,503.18 347.17,504.41 347.47,506.16 345.9,505.33 344.33,506.16 344.63,504.41 343.36,503.18 345.12,502.92" fill="#fff"/>
<circle cx="388.8" cy="552.7" r="2.9" fill="#7A74C2" stroke="none" stroke-width="0"/>
<polygon points="388.8,550.03 389.58,551.62 391.34,551.88 390.07,553.11 390.37,554.86 388.8,554.03 387.23,554.86 387.53,553.11 386.26,551.88 388.02,551.62" fill="#fff"/>
<text x="337.9" y="498.8" font-size="6.1" text-anchor="start" fill="#111111" font-weight="normal" textLength="18.6" lengthAdjust="spacingAndGlyphs">Betaine</text>
<text x="360.2" y="553.8" font-size="6.1" text-anchor="start" fill="#111111" font-weight="normal" textLength="24.3" lengthAdjust="spacingAndGlyphs">Sarcosine</text>
<text x="392.7" y="567.7" font-size="6.1" text-anchor="start" fill="#111111" font-weight="normal" textLength="45" lengthAdjust="spacingAndGlyphs">3−Hydroxybutyrate</text>
<text x="394.6" y="578.1" font-size="6.1" text-anchor="start" fill="#111111" font-weight="normal" textLength="17.7" lengthAdjust="spacingAndGlyphs">Glycine</text>
<text x="355.3" y="588.4" font-size="6.1" text-anchor="start" fill="#111111" font-weight="normal" textLength="30.7" lengthAdjust="spacingAndGlyphs">myo−Inositol</text>
<text x="414.8" y="584.6" font-size="6.1" text-anchor="start" fill="#111111" font-weight="normal" textLength="27.2" lengthAdjust="spacingAndGlyphs">Asparagine</text>
<text x="395.1" y="595.9" font-size="6.1" text-anchor="start" fill="#111111" font-weight="normal" textLength="16.9" lengthAdjust="spacingAndGlyphs">Inosine</text>
<text x="596.2" y="558.3" font-size="6.1" text-anchor="start" fill="#111111" font-weight="normal" textLength="22.2" lengthAdjust="spacingAndGlyphs">Carnitine</text>
<text x="605.9" y="584.9" font-size="6.1" text-anchor="start" fill="#111111" font-weight="normal" textLength="28.1" lengthAdjust="spacingAndGlyphs">Glutathione</text>
<line x1="330.9" y1="496.3" x2="330.9" y2="669.7" stroke="#000" stroke-width="1.9" stroke-linecap="butt"/>
<line x1="329.9" y1="668.7" x2="656.4" y2="668.7" stroke="#000" stroke-width="1.9" stroke-linecap="butt"/>
<line x1="326.1" y1="660.9" x2="330.9" y2="660.9" stroke="#333" stroke-width="1.2" stroke-linecap="butt"/>
<text x="324.9" y="662.7" font-size="9.4" text-anchor="end" fill="#555555" font-weight="normal">0.0</text>
<line x1="326.1" y1="625.5" x2="330.9" y2="625.5" stroke="#333" stroke-width="1.2" stroke-linecap="butt"/>
<text x="324.9" y="627.3" font-size="9.4" text-anchor="end" fill="#555555" font-weight="normal">0.5</text>
<line x1="326.1" y1="590.5" x2="330.9" y2="590.5" stroke="#333" stroke-width="1.2" stroke-linecap="butt"/>
<text x="324.9" y="592.3" font-size="9.4" text-anchor="end" fill="#555555" font-weight="normal">1.0</text>
<line x1="326.1" y1="555.2" x2="330.9" y2="555.2" stroke="#333" stroke-width="1.2" stroke-linecap="butt"/>
<text x="324.9" y="557" font-size="9.4" text-anchor="end" fill="#555555" font-weight="normal">1.5</text>
<line x1="326.1" y1="519.7" x2="330.9" y2="519.7" stroke="#333" stroke-width="1.2" stroke-linecap="butt"/>
<text x="324.9" y="521.5" font-size="9.4" text-anchor="end" fill="#555555" font-weight="normal">2.0</text>
<line x1="417.7" y1="668.7" x2="417.7" y2="673.5" stroke="#333" stroke-width="1.2" stroke-linecap="butt"/>
<text x="415.7" y="682" font-size="9.6" text-anchor="middle" fill="#555555" font-weight="normal">−1</text>
<line x1="515.1" y1="668.7" x2="515.1" y2="673.5" stroke="#333" stroke-width="1.2" stroke-linecap="butt"/>
<text x="515.6" y="682" font-size="9.6" text-anchor="middle" fill="#555555" font-weight="normal">0</text>
<line x1="612.5" y1="668.7" x2="612.5" y2="673.5" stroke="#333" stroke-width="1.2" stroke-linecap="butt"/>
<text x="613" y="682" font-size="9.6" text-anchor="middle" fill="#555555" font-weight="normal">1</text>
<text x="504.9" y="692" font-size="10.7" text-anchor="middle" fill="#000" font-weight="normal">Effect Size</text>
<text x="306.3" y="566.5" font-size="11.6" text-anchor="middle" fill="#000" font-weight="normal" transform="rotate(-90 306.3 566.5)">-log10(p−value)</text>
<text x="381.4" y="484" font-size="8.6" text-anchor="middle" fill="#000" font-weight="normal">Higher in KD</text>
<text x="608.8" y="484" font-size="8.6" text-anchor="middle" fill="#000" font-weight="normal">Higher in CD</text>
</svg></body></html>
